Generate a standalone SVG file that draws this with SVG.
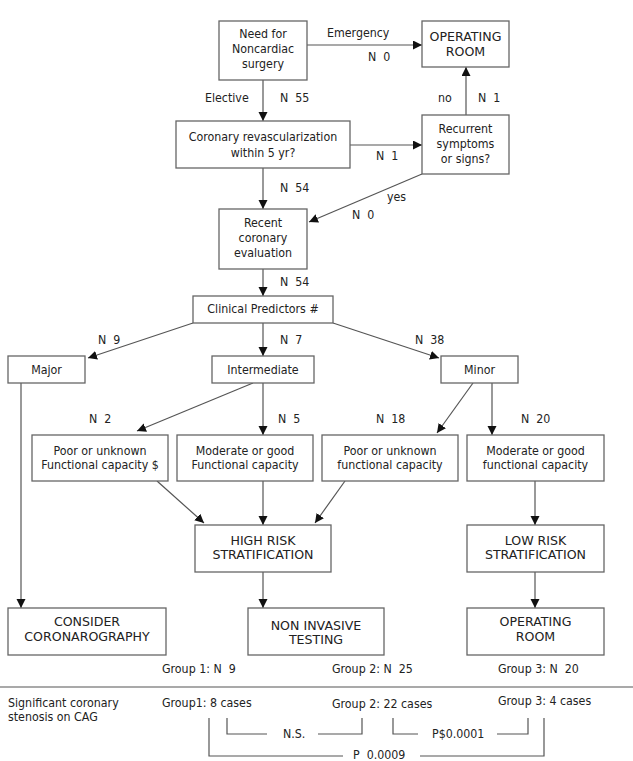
<svg xmlns="http://www.w3.org/2000/svg" width="633" height="761" viewBox="0 0 633 761">
<style>
text{font-family:"DejaVu Sans Condensed","DejaVu Sans","Liberation Sans",sans-serif;font-stretch:condensed;font-size:12.3px;fill:#222;white-space:pre}
.c{text-anchor:middle}
.u{font-family:"DejaVu Sans","Liberation Sans",sans-serif;font-stretch:normal;font-size:12.6px}
.box{fill:#fff;stroke:#666;stroke-width:1.3}
.ln{fill:none;stroke:#555;stroke-width:1.2}
.ar{fill:none;stroke:#555;stroke-width:1.2;marker-end:url(#ah)}
</style>
<defs>
<marker id="ah" markerUnits="userSpaceOnUse" markerWidth="10" markerHeight="10" refX="9" refY="4.5" orient="auto">
<path d="M0,0 L9,4.5 L0,9 Z" fill="#111"/>
</marker>
</defs>
<rect width="633" height="761" fill="#fff"/>
<g id="connectors">
<line class="ar" x1="307" y1="45" x2="422" y2="45"/>
<line class="ar" x1="263" y1="80" x2="263" y2="121"/>
<line class="ar" x1="350" y1="145" x2="422" y2="145"/>
<line class="ar" x1="466" y1="115" x2="466" y2="67"/>
<line class="ar" x1="422" y1="174" x2="309" y2="222"/>
<line class="ar" x1="263" y1="168" x2="263" y2="209"/>
<line class="ar" x1="263" y1="269" x2="263" y2="296"/>
<line class="ar" x1="193" y1="323" x2="88" y2="358"/>
<line class="ar" x1="263" y1="323" x2="263" y2="356"/>
<line class="ar" x1="333" y1="323" x2="439" y2="358"/>
<line class="ar" x1="253" y1="383" x2="137" y2="431"/>
<line class="ar" x1="263" y1="383" x2="263" y2="435"/>
<line class="ar" x1="473" y1="383" x2="437" y2="433"/>
<line class="ar" x1="492" y1="383" x2="492" y2="435"/>
<line class="ar" x1="157" y1="481" x2="204" y2="523"/>
<line class="ar" x1="263" y1="481" x2="263" y2="525"/>
<line class="ar" x1="345" y1="481" x2="315" y2="523"/>
<line class="ar" x1="535" y1="481" x2="535" y2="525"/>
<line class="ar" x1="21" y1="383" x2="21" y2="608"/>
<line class="ar" x1="263" y1="572" x2="263" y2="608"/>
<line class="ar" x1="535" y1="572" x2="535" y2="608"/>
<line class="ln" x1="0" y1="687" x2="633" y2="687"/>
<polyline class="ln" points="227,718 227,734 267,734"/>
<polyline class="ln" points="318,734 362,734 362,718"/>
<polyline class="ln" points="393,718 393,734 418,734"/>
<polyline class="ln" points="497,734 528,734 528,718"/>
<polyline class="ln" points="209,718 209,756 343,756"/>
<polyline class="ln" points="420,756 544,756 544,718"/>
</g>
<g id="need">
<rect class="box" x="219" y="21" width="88" height="59"/>
<text class="c" x="263" y="38">Need for</text>
<text class="c" x="263" y="53">Noncardiac</text>
<text class="c" x="263" y="68">surgery</text>
</g>
<g id="or1">
<rect class="box" x="422" y="21" width="87" height="46"/>
<text class="c u" x="465.5" y="41">OPERATING</text>
<text class="c u" x="465.5" y="56">ROOM</text>
</g>
<g id="revasc">
<rect class="box" x="176" y="121" width="174" height="47"/>
<text class="c" x="263" y="141">Coronary revascularization</text>
<text class="c" x="263" y="157">within 5 yr?</text>
</g>
<g id="recurrent">
<rect class="box" x="422" y="115" width="87" height="59"/>
<text class="c" x="465.5" y="133">Recurrent</text>
<text class="c" x="465.5" y="148">symptoms</text>
<text class="c" x="465.5" y="163">or signs?</text>
</g>
<g id="recent">
<rect class="box" x="219" y="209" width="88" height="60"/>
<text class="c" x="263" y="227">Recent</text>
<text class="c" x="263" y="242">coronary</text>
<text class="c" x="263" y="257">evaluation</text>
</g>
<g id="clinical">
<rect class="box" x="193" y="296" width="140" height="27"/>
<text class="c" x="263" y="313">Clinical Predictors #</text>
</g>
<g id="major">
<rect class="box" x="8" y="356" width="77" height="27"/>
<text class="c" x="46.5" y="374">Major</text>
</g>
<g id="intermediate">
<rect class="box" x="212" y="356" width="102" height="27"/>
<text class="c" x="263" y="374">Intermediate</text>
</g>
<g id="minor">
<rect class="box" x="441" y="356" width="77" height="27"/>
<text class="c" x="479.5" y="374">Minor</text>
</g>
<g id="poor1">
<rect class="box" x="32" y="435" width="136" height="46"/>
<text class="c" x="100" y="455">Poor or unknown</text>
<text class="c" x="100" y="469">Functional capacity $</text>
</g>
<g id="mod1">
<rect class="box" x="177" y="435" width="136" height="46"/>
<text class="c" x="245" y="455">Moderate or good</text>
<text class="c" x="245" y="469">Functional capacity</text>
</g>
<g id="poor2">
<rect class="box" x="322" y="435" width="136" height="46"/>
<text class="c" x="390" y="455">Poor or unknown</text>
<text class="c" x="390" y="469">functional capacity</text>
</g>
<g id="mod2">
<rect class="box" x="467" y="435" width="137" height="46"/>
<text class="c" x="535.5" y="455">Moderate or good</text>
<text class="c" x="535.5" y="469">functional capacity</text>
</g>
<g id="highrisk">
<rect class="box" x="195" y="525" width="136" height="47"/>
<text class="c u" x="263" y="545">HIGH RISK</text>
<text class="c u" x="263" y="559">STRATIFICATION</text>
</g>
<g id="lowrisk">
<rect class="box" x="467" y="525" width="137" height="47"/>
<text class="c u" x="535.5" y="545">LOW RISK</text>
<text class="c u" x="535.5" y="559">STRATIFICATION</text>
</g>
<g id="consider">
<rect class="box" x="8" y="608" width="158" height="47"/>
<text class="c u" x="87" y="626">CONSIDER</text>
<text class="c u" x="87" y="641">CORONAROGRAPHY</text>
</g>
<g id="noninvasive">
<rect class="box" x="248" y="608" width="136" height="47"/>
<text class="c u" x="316" y="630">NON INVASIVE</text>
<text class="c u" x="316" y="644">TESTING</text>
</g>
<g id="or2">
<rect class="box" x="467" y="608" width="137" height="47"/>
<text class="c u" x="535.5" y="626">OPERATING</text>
<text class="c u" x="535.5" y="641">ROOM</text>
</g>
<g id="labels">
<text x="327" y="37">Emergency</text>
<text x="368" y="61">N  0</text>
<text x="205" y="102">Elective</text>
<text x="280" y="102">N  55</text>
<text x="438" y="102">no</text>
<text x="478" y="102">N  1</text>
<text x="376" y="160">N  1</text>
<text x="280" y="192">N  54</text>
<text x="387" y="201">yes</text>
<text x="352" y="219">N  0</text>
<text x="280" y="286">N  54</text>
<text x="98" y="344">N  9</text>
<text x="280" y="344">N  7</text>
<text x="415" y="344">N  38</text>
<text x="89" y="423">N  2</text>
<text x="278" y="423">N  5</text>
<text x="376" y="423">N  18</text>
<text x="521" y="423">N  20</text>
<text x="162" y="673">Group 1: N  9</text>
<text x="332" y="673">Group 2: N  25</text>
<text x="498" y="673">Group 3: N  20</text>
<text x="8" y="707">Significant coronary</text>
<text x="8" y="721">stenosis on CAG</text>
<text x="162" y="707">Group1: 8 cases</text>
<text x="332" y="708">Group 2: 22 cases</text>
<text x="498" y="705">Group 3: 4 cases</text>
<text x="283" y="738">N.S.</text>
<text x="432" y="738">P$0.0001</text>
<text x="353" y="759">P  0.0009</text>
</g>
</svg>
